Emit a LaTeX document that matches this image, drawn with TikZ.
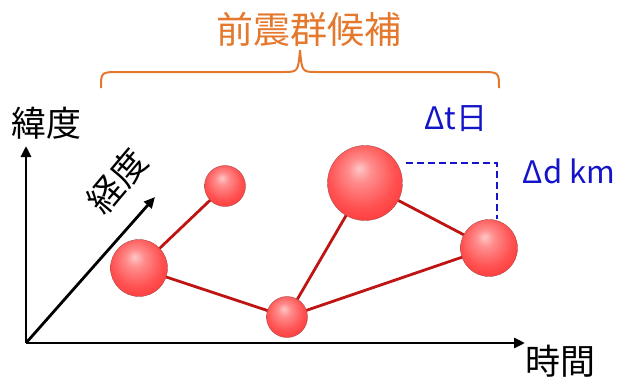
\documentclass[tikz,border=0pt]{standalone}
\usepackage{fontspec}
\setmainfont{Noto Sans CJK JP}
\usetikzlibrary{arrows.meta}
\definecolor{braceorange}{RGB}{228,120,45}
\definecolor{dblue}{RGB}{20,20,200}
\definecolor{linkred}{RGB}{190,20,20}
\pgfdeclareradialshading{quakeball}{\pgfpoint{-4bp}{10bp}}{%
  color(0bp)=(red!22!white);
  color(8bp)=(red!45!white);
  color(22bp)=(red!68!white);
  color(34bp)=(red!80!white);
  color(42bp)=(red!88!white);
  color(50bp)=(red!82!black)}
\tikzset{
  quake/.style={circle, draw=red!50!black!70, line width=0.4pt, shading=quakeball, inner sep=0pt, minimum size=#1},
  link/.style={draw=linkred, line width=2.8pt},
  axis/.style={draw=black, line width=2.8pt, -{Triangle[length=11pt,width=10pt]}},
  lbl/.style={inner sep=0pt, font=\fontsize{35}{35}\selectfont},
  bluelbl/.style={inner sep=0pt, text=dblue, font=\fontsize{31}{31}\selectfont},
}
\begin{document}
\begin{tikzpicture}[x=1pt,y=-1pt]
\useasboundingbox (0,0) rectangle (622,383);
% axes
\coordinate (O) at (26,343);
\coordinate (Ytop) at (26,146);
\coordinate (Xend) at (525,343);
\coordinate (Zend) at (155,197);
\draw[axis] (O) -- (Ytop);
\draw[axis] (O) -- (Xend);
\draw[axis] (O) -- (Zend);
% labels
\node[lbl] (lat) at (47,123) {緯度};
\node[lbl, rotate=50] (lon) at (117,181) {経度};
\node[lbl] (time) at (560,361) {時間};
\node[inner sep=0pt, text=braceorange, font=\fontsize{37}{37}\selectfont] (title) at (309,29) {前震群候補};
\node[bluelbl] (dt) at (456,119) {Δt日};
\node[bluelbl] (dd) at (569,171) {Δd km};
% brace
\coordinate (bl) at (101,88);
\coordinate (br) at (499,88);
\coordinate (bt) at (300,50);
\draw[braceorange, line width=2pt] (bl) .. controls (101,72) .. (120,72) -- (283,72) .. controls (298,72) .. (bt) .. controls (302,72) .. (317,72) -- (480,72) .. controls (499,72) .. (br);
% links
\coordinate (Ac) at (139,268);
\coordinate (Bc) at (225,186);
\coordinate (Cc) at (287,317);
\coordinate (Dc) at (365,183);
\coordinate (Ec) at (489,248);
\path[link] (Ac) -- (Bc);
\path[link] (Ac) -- (Cc);
\path[link] (Cc) -- (Dc);
\path[link] (Cc) -- (Ec);
\path[link] (Dc) -- (Ec);
% spheres
\node[quake=57pt] (A) at (Ac) {};
\node[quake=41pt] (B) at (Bc) {};
\node[quake=41pt] (C) at (Cc) {};
\node[quake=75pt] (D) at (Dc) {};
\node[quake=57pt] (E) at (Ec) {};
% dashed
\coordinate (dcorner) at (497,163);
\draw[dblue, line width=2.4pt, dash pattern=on 7pt off 4pt] (D.east |- dcorner) ++(3,0) -- (dcorner) -- (E.north -| dcorner);
\end{tikzpicture}
\end{document}
